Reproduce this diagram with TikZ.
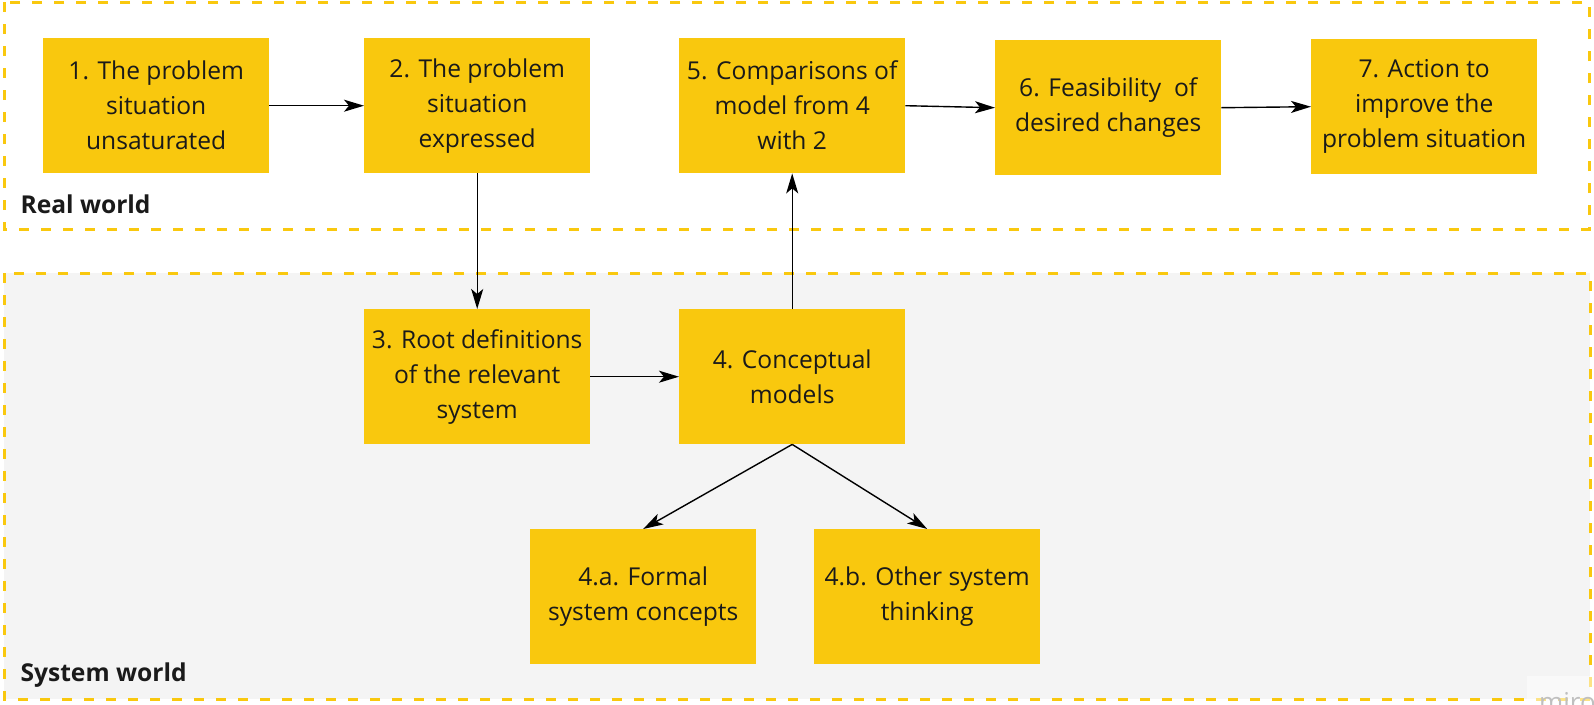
\documentclass[tikz,border=0pt]{standalone}
\usepackage{fontspec}
\setmainfont{Open Sans}
\usetikzlibrary{arrows.meta}
\definecolor{miroyellow}{HTML}{F9C80E}
\definecolor{panelgray}{HTML}{F4F4F4}
\definecolor{ink}{HTML}{1A1A1A}
\begin{document}
\begin{tikzpicture}[x=1pt,y=-1pt,
  stepbox/.style={fill=miroyellow, minimum width=226pt, minimum height=135pt,
    inner sep=0pt, align=center, text=ink,
    font=\fontsize{24.6}{35}\selectfont, anchor=north west},
  link/.style={draw=black, line width=1.4pt,
    -{Stealth[length=20pt,width=12pt,inset=5pt]}},
  frame/.style={draw=miroyellow, line width=3pt, dash pattern=on 10pt off 12pt},
  zone/.style={font=\bfseries\fontsize{24.6}{30}\selectfont, text=ink, anchor=base west}]
\useasboundingbox (0,0) rectangle (1594,704);
\fill[white] (0,0) rectangle (1594,704);
% frames
\draw[frame, fill=white] (4,2) rectangle (1589,229);
\draw[frame, fill=panelgray] (4,273) rectangle (1590,699);
\node[zone] (rw) at (17,213) {Real world};
\node[zone] (sw) at (17,681) {System world};
% boxes
\node[stepbox] (b1) at (43,38) {1. The problem\\situation\\unsaturated};
\node[stepbox] (b2) at (364,38) {2. The problem\\situation\\expressed};
\node[stepbox] (b5) at (679,38) {5. Comparisons of\\model from 4\\with 2};
\node[stepbox] (b6) at (995,40) {6. Feasibility~~of\\desired changes};
\node[stepbox] (b7) at (1311,39) {7. Action to\\improve the\\problem situation};
\node[stepbox] (b3) at (364,309) {3. Root definitions\\of the relevant\\system};
\node[stepbox] (b4) at (679,309) {4. Conceptual\\models};
\node[stepbox] (b4a) at (530,529) {4.a. Formal\\system concepts};
\node[stepbox] (b4b) at (814,529) {4.b. Other system\\thinking};
% connectors
\draw[link] (b1.east) -- (b2.west);
\draw[link] (b2.south) -- (b3.north);
\draw[link] (b3.east) -- (b4.west);
\draw[link] (b4.north) -- (b5.south);
\draw[link] (b5.east) -- (b6.west);
\draw[link] (b6.east) -- (b7.west);
\draw[link] (b4.south) -- (b4a.north);
\draw[link] (b4.south) -- (b4b.north);
% watermark
\begin{scope}
\clip (0,0) rectangle (1594,704);
\fill[white, opacity=0.5] (1527,676) rectangle (1594,704);
\node[text=black!25, font=\fontsize{26}{30}\selectfont, anchor=base west, inner sep=0pt] (wm) at (1539,711) {miro};
\end{scope}
\end{tikzpicture}
\end{document}
